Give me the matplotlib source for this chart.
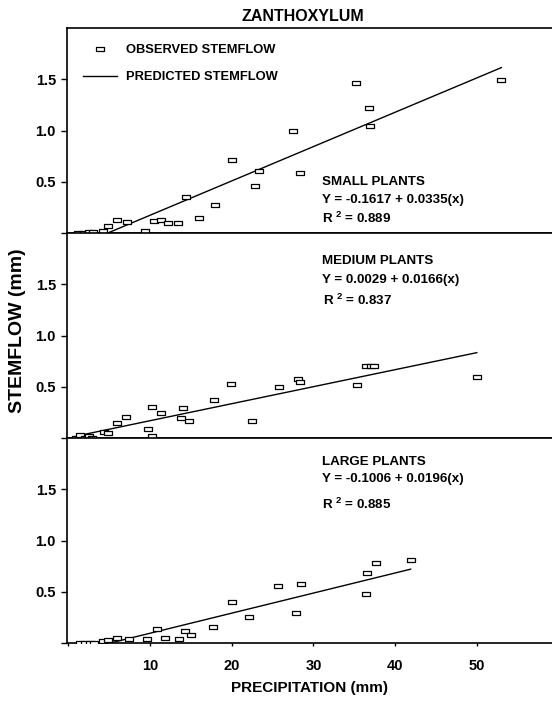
import numpy as np
import matplotlib.pyplot as plt
from matplotlib.path import Path
from matplotlib.lines import Line2D
from matplotlib.legend_handler import HandlerLine2D

plt.rcParams['font.family'] = ['Liberation Sans', 'DejaVu Sans']
plt.rcParams['font.weight'] = 'bold'
plt.rcParams['axes.labelweight'] = 'bold'
plt.rcParams['mathtext.fontset'] = 'custom'
plt.rcParams['mathtext.rm'] = 'Liberation Sans:bold'
plt.rcParams['mathtext.default'] = 'rm'

# observed stemflow (mm) vs precipitation (mm)
small_precip = [1.2, 1.9, 2.5, 3.0, 4.2, 4.8, 6.0, 7.2, 9.4, 10.5, 11.3, 12.2, 13.4,
                14.4, 16.0, 18.0, 20.0, 22.8, 23.4, 27.5, 28.4, 35.2, 36.8, 36.9, 53.0]
small_flow = [0.0, 0.0, 0.01, 0.01, 0.02, 0.07, 0.13, 0.11, 0.02, 0.12, 0.13, 0.10, 0.10,
              0.35, 0.15, 0.27, 0.71, 0.46, 0.61, 1.00, 0.59, 1.46, 1.22, 1.04, 1.49]

medium_precip = [1.0, 1.4, 2.0, 2.5, 2.9, 4.4, 4.9, 5.9, 7.1, 9.8, 10.3, 10.3, 11.3,
                 13.8, 14.0, 14.8, 17.8, 19.9, 22.5, 25.8, 28.1, 28.3, 35.3, 36.4,
                 37.1, 37.4, 50.0]
medium_flow = [0.0, 0.03, 0.0, 0.02, 0.0, 0.06, 0.05, 0.15, 0.21, 0.09, 0.30, 0.02, 0.24,
               0.20, 0.29, 0.17, 0.37, 0.53, 0.17, 0.50, 0.58, 0.55, 0.52, 0.70,
               0.70, 0.70, 0.60]

large_precip = [1.4, 2.0, 2.6, 3.1, 4.3, 4.9, 6.0, 7.4, 9.6, 10.9, 11.8, 13.5, 14.3,
                15.0, 17.7, 20.0, 22.1, 25.7, 27.9, 28.5, 36.4, 36.6, 37.6, 41.9]
large_flow = [0.0, 0.0, 0.0, 0.0, 0.02, 0.03, 0.05, 0.04, 0.04, 0.14, 0.05, 0.04, 0.12,
              0.08, 0.16, 0.40, 0.25, 0.56, 0.29, 0.58, 0.48, 0.68, 0.78, 0.81]

# regression fits: intercept, slope, r squared
groups = ["SMALL PLANTS", "MEDIUM PLANTS", "LARGE PLANTS"]
intercepts = [-0.1617, 0.0029, -0.1006]
slopes = [0.0335, 0.0166, 0.0196]
r_squared = [0.889, 0.837, 0.885]

# text block heights (data units) for each panel: name, equation, r2
label_rows = [(0.50, 0.32, 0.145), (1.73, 1.54, 1.34), (1.77, 1.60, 1.355)]

# flat open rectangle marker
rect = Path([(-1, -0.5), (1, -0.5), (1, 0.5), (-1, 0.5), (-1, -0.5)],
            [Path.MOVETO, Path.LINETO, Path.LINETO, Path.LINETO, Path.CLOSEPOLY])


class RightMarker(HandlerLine2D):
    # put the legend marker near the right end of the handle box
    def get_xdata(self, legend, xdescent, ydescent, width, height, fontsize):
        xdata, _ = super().get_xdata(legend, xdescent, ydescent, width, height, fontsize)
        return xdata, np.array([-xdescent + 0.82 * width])


fig = plt.figure(figsize=(5.52, 7.01), dpi=100)
left = 67 / 552
h = 205 / 701
bottoms = [0.0827 + 2 * h, 0.0827 + h, 0.0827]

data = [(small_precip, small_flow), (medium_precip, medium_flow), (large_precip, large_flow)]
txt_size = 9.6

axes = []
for i, (px, fl) in enumerate(data):
    ax = fig.add_axes([left, bottoms[i], 1 - left, h])
    axes.append(ax)
    ax.plot(px, fl, linestyle='none', marker=rect, markersize=5.6,
            markerfacecolor='white', markeredgecolor='black', markeredgewidth=0.9,
            zorder=3)
    xs = np.array([min(px), max(px)])
    ax.plot(xs, intercepts[i] + slopes[i] * xs, color='black', lw=1.0, zorder=2)

    ax.set_xlim(-0.16, 59.2)
    ax.set_ylim(0, 2.0)
    ax.set_yticks([0, 0.5, 1.0, 1.5])
    ax.set_yticklabels(['', '0.5', '1.0', '1.5'])
    ax.tick_params(axis='y', direction='out', length=4, width=1, labelsize=10.5, pad=4)
    ax.spines['right'].set_visible(False)
    for s in ['left', 'top', 'bottom']:
        ax.spines[s].set_linewidth(1.2)

    r1, r2, r3 = label_rows[i]
    sign = '-' if intercepts[i] < 0 else ''
    ax.text(31.0, r1, groups[i], fontsize=txt_size, va='center', ha='left')
    ax.text(31.0, r2, f"Y = {sign}{abs(intercepts[i]):.4f} + {slopes[i]:.4f}(x)",
            fontsize=txt_size, va='center', ha='left')
    ax.text(31.2 if i == 1 else 31.0, r3, f"R $^{{2}}$ = {r_squared[i]:.3f}",
            fontsize=txt_size, va='center', ha='left')

    if i < 2:
        ax.set_xticks([])
    else:
        ax.set_xticks([0, 10, 20, 30, 40, 50])
        ax.set_xticklabels(['', '10', '20', '30', '40', '50'])
        ax.tick_params(axis='x', direction='out', length=2.5, width=1, labelsize=10.5, pad=9)
        ax.set_xlabel("PRECIPITATION (mm)", fontsize=11, labelpad=6)

# legend in the top panel
handles = [Line2D([], [], linestyle='none', marker=rect, markersize=5.6,
                  markerfacecolor='white', markeredgecolor='black', markeredgewidth=0.9),
           Line2D([], [], color='black', lw=1.0)]
axes[0].legend(handles, ["OBSERVED STEMFLOW", "PREDICTED STEMFLOW"],
               handler_map={handles[0]: RightMarker(numpoints=1)},
               loc='upper left', bbox_to_anchor=(0.0, 1.0), frameon=False,
               fontsize=9.3, handlelength=2.6, handletextpad=0.75, labelspacing=1.15,
               borderaxespad=0.85, borderpad=0.4)

fig.text(0.032, 0.528, "STEMFLOW (mm)", rotation=90, fontsize=14,
         ha='center', va='center')
fig.text(0.549, 0.977, "ZANTHOXYLUM", fontsize=11.5, ha='center', va='center')

fig.savefig("out.png", dpi=100)
